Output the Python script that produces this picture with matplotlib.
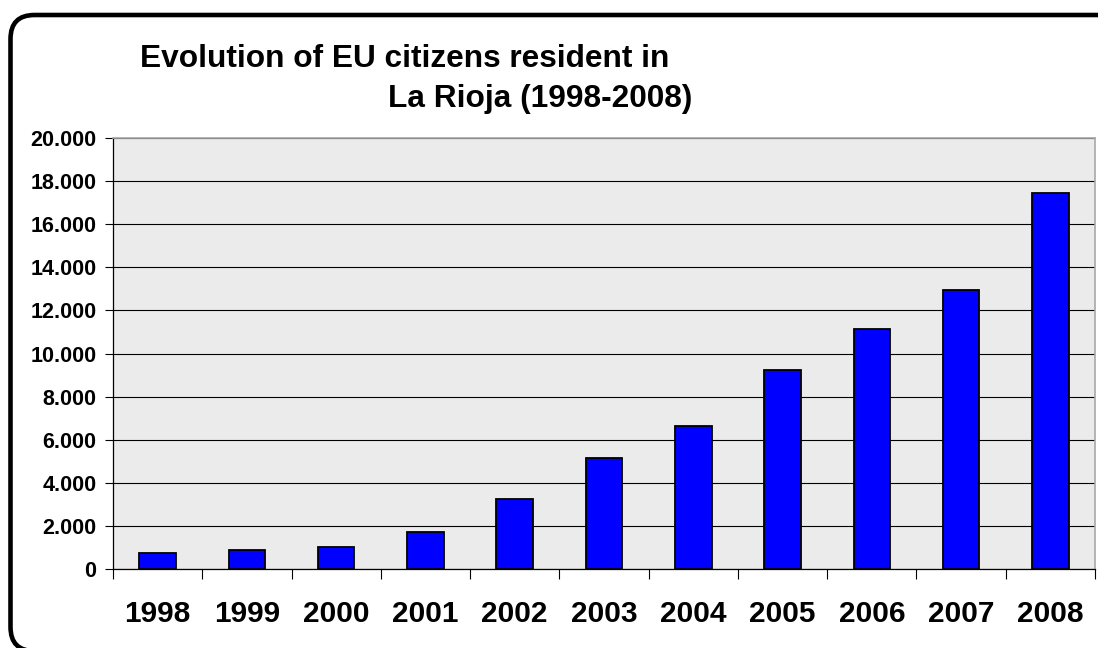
import matplotlib
matplotlib.use("Agg")
import matplotlib.pyplot as plt
from matplotlib.patches import FancyBboxPatch
from matplotlib.ticker import FuncFormatter, FixedLocator

plt.rcParams["font.family"] = ["Liberation Sans", "DejaVu Sans"]

years = ["1998", "1999", "2000", "2001", "2002", "2003",
         "2004", "2005", "2006", "2007", "2008"]
residents = [720, 870, 1020, 1720, 3230, 5150, 6620, 9230, 11120, 12950, 17430]
y_ticks = list(range(0, 20001, 2000))

W, H = 1098, 648
fig = plt.figure(figsize=(W / 100, H / 100), dpi=100, facecolor="white")

# frame with rounded corners, drawn in pixel units
bg = fig.add_axes([0, 0, 1, 1], zorder=0)
bg.set_xlim(0, W)
bg.set_ylim(H, 0)
bg.set_axis_off()
bg.add_patch(FancyBboxPatch((10.5, 15), 1110, 636,
                            boxstyle="round,pad=0,rounding_size=24",
                            facecolor="white", edgecolor="black", linewidth=3.3))

# plot area
left, right, top, bottom = 113, 1095, 138, 569
ax = fig.add_axes([left / W, 1 - bottom / H, (right - left) / W, (bottom - top) / H],
                  zorder=1)
ax.set_facecolor("#ebebeb")

x = list(range(len(years)))
ax.bar(x, residents, width=0.41, color="#0000ff", edgecolor="black",
       linewidth=1.3, zorder=3)

ax.set_xlim(-0.5, len(years) - 0.5)
ax.set_ylim(0, 20000)
ax.set_yticks(y_ticks)
ax.yaxis.set_major_formatter(FuncFormatter(lambda v, p: f"{v:,.0f}".replace(",", ".")))
ax.yaxis.grid(True, color="black", linewidth=0.8, zorder=1)
ax.set_axisbelow(True)

ax.xaxis.set_major_locator(FixedLocator([i - 0.5 for i in range(len(years) + 1)]))
ax.xaxis.set_minor_locator(FixedLocator(x))
ax.set_xticklabels([])
ax.set_xticklabels(years, minor=True)

ax.tick_params(axis="x", which="major", length=7, width=0.8, direction="out",
               color="black")
ax.tick_params(axis="x", which="minor", length=0, pad=22, labelsize=21.5)
for lbl in ax.get_xticklabels(minor=True):
    lbl.set_fontweight("bold")
ax.tick_params(axis="y", length=6, width=0.8, direction="out", pad=6,
               labelsize=15.5)
for lbl in ax.get_yticklabels():
    lbl.set_fontweight("bold")

for s in ("left", "bottom"):
    ax.spines[s].set_color("black")
    ax.spines[s].set_linewidth(0.9)
for s in ("top", "right"):
    ax.spines[s].set_color("#a8a8a8")
    ax.spines[s].set_linewidth(1.2)

fig.text(140 / W, 1 - 67 / H, "Evolution of EU citizens resident in",
         fontsize=22.8, fontweight="bold", ha="left", va="baseline")
fig.text(388 / W, 1 - 107 / H, "La Rioja (1998-2008)",
         fontsize=22.8, fontweight="bold", ha="left", va="baseline")

fig.savefig("out.png", dpi=100, facecolor="white")
